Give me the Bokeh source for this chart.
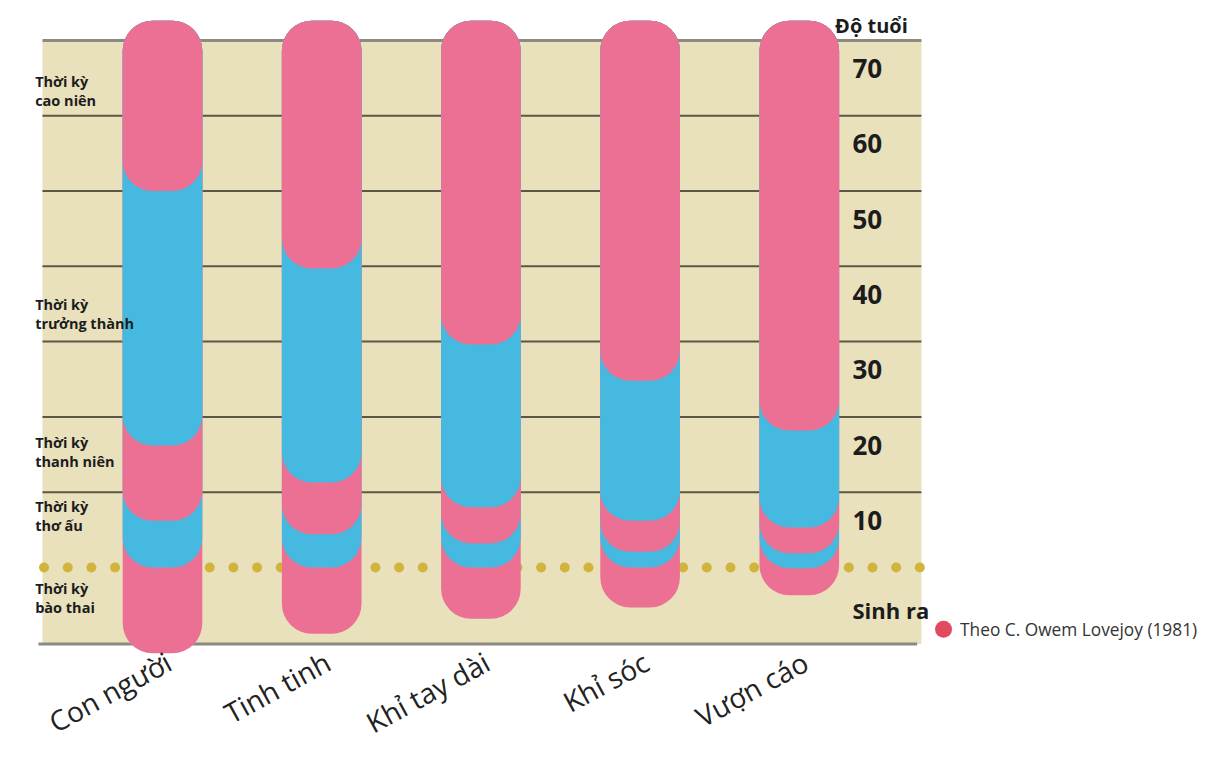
from bokeh.plotting import figure
from bokeh.models import Range1d
from bokeh.embed import file_html
from bokeh.resources import INLINE
from bokeh.core.properties import value

# ---------------- data ----------------
species = ["Con người", "Tinh tinh", "Khỉ tay dài", "Khỉ sóc", "Vượn cáo"]
species_x = [0, 1, 2, 3, 4]

# age (years) at which each drawn stage capsule ends (bottom), per species
life_top = [72.6, 72.6, 72.6, 72.6, 72.6]
cao_nien_end = [50.0, 39.7, 29.6, 24.8, 18.2]        # Thời kỳ cao niên
truong_thanh_end = [16.2, 11.3, 8.0, 6.2, 5.3]       # Thời kỳ trưởng thành
thanh_nien_end = [6.2, 4.4, 3.2, 2.1, 1.9]           # Thời kỳ thanh niên
tho_au_end = [0.0, 0.0, 0.0, 0.0, -0.1]              # Thời kỳ thơ ấu
bao_thai_end = [-11.4, -8.8, -6.8, -5.3, -3.7]       # Thời kỳ bào thai

stage_labels = ["Thời kỳ\ncao niên", "Thời kỳ\ntrưởng thành", "Thời kỳ\nthanh niên",
                "Thời kỳ\nthơ ấu", "Thời kỳ\nbào thai"]
stage_label_age = [63.3, 33.7, 15.3, 6.8, -4.1]

age_ticks = [10, 20, 30, 40, 50, 60, 70]
age_tick_labels = ["10", "20", "30", "40", "50", "60", "70"]

axis_title = "Độ tuổi"
birth_label = "Sinh ra"
source_label = "Theo C. Owem Lovejoy (1981)"

# ---------------- styles ----------------
PINK = "#ec6f94"
BLUE = "#46b9e0"
BEIGE = "#e9e0bc"
GRID = "#5b5747"
GRAY = "#8c8a80"
DOT = "#d2b43c"
TXT = "#1c1c1c"
FONT = "Open Sans"

p = figure(width=1201, height=743, output_backend="svg", toolbar_location=None,
           x_range=Range1d(-1.01759, 6.52638), y_range=Range1d(-23.373, 75.299),
           x_axis_type=None, y_axis_type=None, min_border=0)
p.grid.visible = False
p.outline_line_color = None
p.background_fill_color = "white"
p.border_fill_color = "white"

X_LEFT, X_RIGHT = -0.754, 4.767
BOTTOM_AGE = -10.15

# beige panel
p.quad(left=[X_LEFT], right=[X_RIGHT], top=[70], bottom=[BOTTOM_AGE],
       fill_color=BEIGE, line_color=None)

# grid lines
inner = age_ticks[:-1]
p.segment(x0=[X_LEFT] * len(inner), x1=[X_RIGHT] * len(inner), y0=inner, y1=inner,
          line_color=GRID, line_width=2)
p.segment(x0=[X_LEFT], x1=[X_RIGHT], y0=[age_ticks[-1]], y1=[age_ticks[-1]],
          line_color=GRAY, line_width=3)
p.segment(x0=[-0.779], x1=[4.74], y0=[BOTTOM_AGE], y1=[BOTTOM_AGE],
          line_color=GRAY, line_width=3)

# dotted birth line
n_dots = 38
step = (X_RIGHT - X_LEFT - 0.02) / (n_dots - 1)
dot_x = [X_LEFT + 0.01 + i * step for i in range(n_dots)]
p.scatter(x=dot_x, y=[0] * n_dots, size=10, marker="circle",
          fill_color=DOT, line_color=None)

# stacked capsules: draw from the lowest stage up so upper ones overlap
stages = [(bao_thai_end, PINK), (tho_au_end, BLUE), (thanh_nien_end, PINK),
          (truong_thanh_end, BLUE), (cao_nien_end, PINK)]
for ends, col in stages:
    p.vbar(x=species_x, width=0.5, top=life_top, bottom=ends,
           fill_color=col, line_color=None, border_radius=30)

# left stage labels
p.text(x=[-0.80] * len(stage_labels), y=stage_label_age, text=stage_labels,
       text_font=value(FONT), text_font_style="bold", text_font_size="14.5px",
       text_color=TXT, text_align="left", text_baseline="middle",
       text_line_height=1.0)

# right age labels
p.text(x=[4.334] * len(age_ticks), y=[a - 3.75 for a in age_ticks], text=age_tick_labels,
       text_font=value(FONT), text_font_style="bold", text_font_size="26px",
       text_color=TXT, text_align="left", text_baseline="middle")
p.text(x=[4.225], y=[72.0], text=[axis_title],
       text_font=value(FONT), text_font_style="bold", text_font_size="20px",
       text_color=TXT, text_align="left", text_baseline="middle")
p.text(x=[4.334], y=[-5.6], text=[birth_label],
       text_font=value(FONT), text_font_style="bold", text_font_size="22px",
       text_color=TXT, text_align="left", text_baseline="middle")

# source legend
p.scatter(x=[4.906], y=[-8.2], size=17, marker="circle",
          fill_color="#e14a60", line_color=None)
p.text(x=[5.01], y=[-8.2], text=[source_label],
       text_font=value(FONT), text_font_size="17.3px",
       text_color="#333333", text_align="left", text_baseline="middle")

# species labels (rotated)
p.text(x=species_x, y=[-10.0] * len(species), text=species, angle=0.5,
       x_offset=-3, text_font=value(FONT), text_font_size="28px",
       text_color="#222222", text_align="right", text_baseline="top")

open("out.html", "w").write(file_html(p, INLINE))
